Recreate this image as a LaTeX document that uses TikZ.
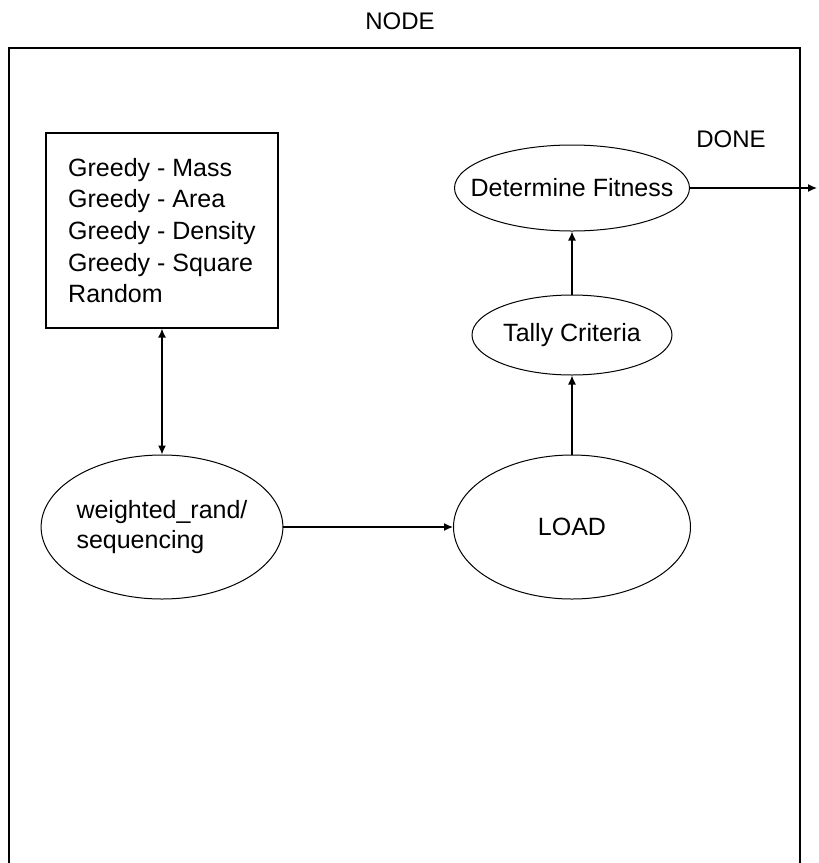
\documentclass[tikz,border=0pt]{standalone}
\usepackage{fontspec}
\setmainfont{Liberation Sans}
\usetikzlibrary{shapes}
\usetikzlibrary{positioning}
\usetikzlibrary{arrows.meta}
\newcommand{\snug}[1]{\makebox[0pt]{#1}}
\tikzset{
    myellipse/.style = {ellipse, line width=1pt, draw=black, align=center, inner sep=0pt, fill=white, font=\fontsize{25}{30}\selectfont, text=black},
    mybox/.style = {rectangle, line width=1.2pt, draw=black, align=left, inner sep=0pt, fill=white, font=\fontsize{25}{31.7}\selectfont, text=black},
    mylabel/.style = {inner sep=0pt, font=\fontsize{24}{30}\selectfont, text=black},
    edgen/.style = {-{Latex[length=9pt,width=8pt]}, line width=1.3pt, black},
    edgenb/.style = {{Latex[length=9pt,width=8pt]}-{Latex[length=9pt,width=8pt]}, line width=1.3pt, black},
    framen/.style = {line width=1.6pt, black}
}
\begin{document}
\begin{tikzpicture}[x=1pt, y=-1pt]
\path[use as bounding box] (0,0) rectangle (819,863);
% frame
\draw[framen] (9,863) -- (9,48) -- (800,48) -- (800,863);
\node[mylabel] at (400,21) (nodelbl) {NODE};
\node[mylabel] at (731,139) (donelbl) {DONE};
%
\node[mybox, minimum width=232pt, minimum height=195pt] at (162,230.5) (seq)
    {Greedy - Mass\\Greedy - Area\\Greedy - Density\\Greedy - Square\\Random};
\node[myellipse, minimum width=236pt, minimum height=144pt, align=left] at (162,527) (wr) {weighted\_rand/\\sequencing};
\node[myellipse, minimum width=237pt, minimum height=144pt] at (572,527) (load) {LOAD};
\node[myellipse, minimum width=200pt, minimum height=80pt] at (572,335) (tally) {Tally Criteria};
\node[myellipse, minimum width=235pt, minimum height=86pt] at (572,188) (df) {\snug{Determine Fitness}};
\coordinate (out) at (817,188);
%
\draw[edgenb] (seq) edge (wr);
\draw[edgen] (wr) edge (load);
\draw[edgen] (load) edge (tally);
\draw[edgen] (tally) edge (df);
\draw[edgen] (df) edge (out);
\end{tikzpicture}
\end{document}
